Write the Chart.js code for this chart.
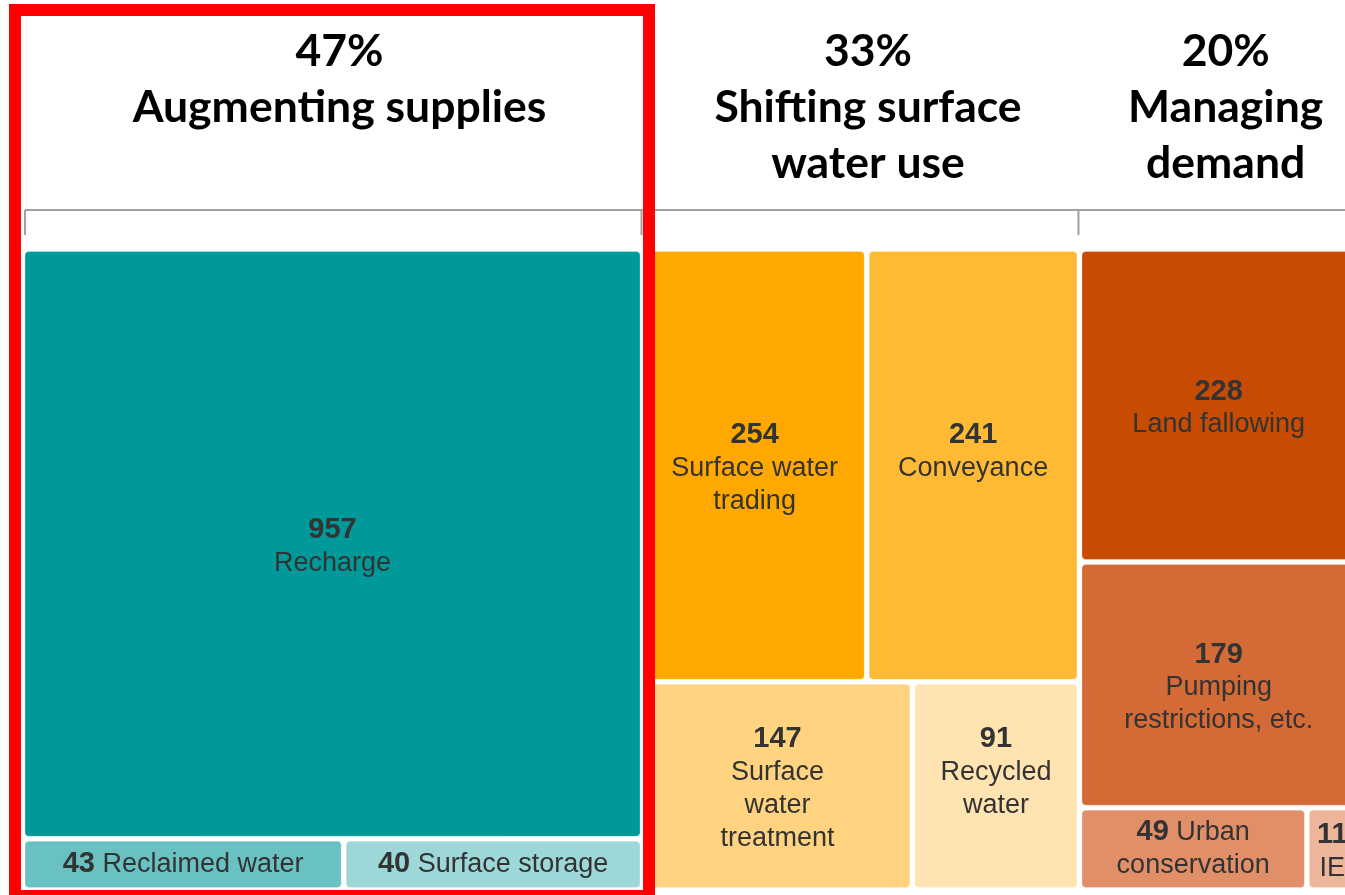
<!DOCTYPE html>
<html>
<head>
<meta charset="utf-8">
<script src="https://cdn.jsdelivr.net/npm/chart.js@4.4.1/dist/chart.umd.min.js"></script>
<style>
  html, body { margin: 0; padding: 0; background: #ffffff; overflow: hidden; }
  canvas { display: block; }
</style>
</head>
<body>
<canvas id="chart" width="1345" height="895"></canvas>
<script>
// ---------------- DATA ----------------
const groupShares = ['47%', '33%', '20%'];
const groupNames = [['Augmenting supplies'], ['Shifting surface', 'water use'], ['Managing', 'demand']];

const tileValues = [957, 43, 40, 254, 241, 147, 91, 228, 179, 49, 11];
const tileLabels = [
  ['Recharge'],
  ['Reclaimed water'],
  ['Surface storage'],
  ['Surface water', 'trading'],
  ['Conveyance'],
  ['Surface', 'water', 'treatment'],
  ['Recycled', 'water'],
  ['Land fallowing'],
  ['Pumping', 'restrictions, etc.'],
  ['Urban', 'conservation'],
  ['IE']
];
const tileGroup = [0, 0, 0, 1, 1, 1, 1, 2, 2, 2, 2];
const tileRow   = [0, 1, 1, 0, 0, 1, 1, 0, 1, 2, 2];
const tileInline = [false, true, true, false, false, false, false, false, false, true, false];
const tileColors = ['#009999', '#6AC1C1', '#9DD7D7', '#FFA800', '#FFBA35', '#FFD37F', '#FFE3B1',
                    '#C84B02', '#D46B37', '#E08F68', '#EDB69B'];

// ---------------- LAYOUT (computed from values) ----------------
const nGroups = groupShares.length;
const groupTotals = [];
for (let g = 0; g < nGroups; g++) {
  groupTotals.push(tileValues.reduce((s, v, i) => s + (tileGroup[i] === g ? v : 0), 0));
}
const groupX0 = [];
let acc = 0;
for (let g = 0; g < nGroups; g++) { groupX0.push(acc); acc += groupTotals[g]; }

const tiles = [];
const rowMaxLines = {};
for (let g = 0; g < nGroups; g++) {
  const rows = [...new Set(tileRow.filter((r, i) => tileGroup[i] === g))].sort((a, b) => a - b);
  let yAcc = 0;
  rows.forEach(r => {
    const idx = tileValues.map((v, i) => i).filter(i => tileGroup[i] === g && tileRow[i] === r);
    const rowTotal = idx.reduce((s, i) => s + tileValues[i], 0);
    const h = rowTotal / groupTotals[g];
    let xAcc = 0;
    idx.forEach(i => {
      const w = tileValues[i] / rowTotal * groupTotals[g];
      const nLines = tileInline[i] ? tileLabels[i].length : tileLabels[i].length + 1;
      tiles[i] = { x0: groupX0[g] + xAcc, x1: groupX0[g] + xAcc + w, y0: yAcc, y1: yAcc + h, nLines };
      const key = g + '-' + r;
      rowMaxLines[key] = Math.max(rowMaxLines[key] || 0, nLines);
      xAcc += w;
    });
    yAcc += h;
  });
}

// ---------------- STYLE ----------------
const GAP = 2.5;
const RADIUS = 4;
const LINE_H = 33;
const NUM_FONT = "bold 29px 'Liberation Sans', Arial, sans-serif";
const LBL_FONT = "27px 'Liberation Sans', Arial, sans-serif";
const TEXT_COLOR = '#333333';
const HEAD_FONT = "bold 44.5px Lato, 'Open Sans', sans-serif";

const treemapPlugin = {
  id: 'treemapTiles',
  beforeDatasetsDraw(chart) {
    const { ctx, scales: { x, y } } = chart;
    ctx.save();
    tiles.forEach((t, i) => {
      const px0 = x.getPixelForValue(t.x0) + GAP;
      const px1 = x.getPixelForValue(t.x1) - GAP;
      const py0 = y.getPixelForValue(t.y0) + GAP;
      const py1 = y.getPixelForValue(t.y1) - GAP;
      ctx.beginPath();
      ctx.roundRect(px0, py0, px1 - px0, py1 - py0, RADIUS);
      ctx.fillStyle = tileColors[i];
      ctx.fill();
      ctx.lineWidth = 1;
      ctx.strokeStyle = 'rgba(255,255,255,0.25)';
      ctx.stroke();

      // text
      const lines = [];
      if (tileInline[i]) {
        lines.push([{ t: String(tileValues[i]), f: NUM_FONT }, { t: ' ' + tileLabels[i][0], f: LBL_FONT }]);
        tileLabels[i].slice(1).forEach(s => lines.push([{ t: s, f: LBL_FONT }]));
      } else {
        lines.push([{ t: String(tileValues[i]), f: NUM_FONT }]);
        tileLabels[i].forEach(s => lines.push([{ t: s, f: LBL_FONT }]));
      }
      const maxL = rowMaxLines[tileGroup[i] + '-' + tileRow[i]];
      const cx = (px0 + px1) / 2;
      const cy = (py0 + py1) / 2 + (tileInline[i] ? 0 : 3);
      const top = cy - maxL * LINE_H / 2;
      ctx.fillStyle = TEXT_COLOR;
      ctx.textBaseline = 'middle';
      ctx.textAlign = 'left';
      lines.forEach((parts, li) => {
        let total = 0;
        parts.forEach(p => { ctx.font = p.f; p.w = ctx.measureText(p.t).width; total += p.w; });
        let xx = cx - total / 2;
        const yy = top + (li + 0.5) * LINE_H;
        parts.forEach(p => { ctx.font = p.f; ctx.fillText(p.t, xx, yy); xx += p.w; });
      });
    });
    ctx.restore();
  },
  afterDraw(chart) {
    const { ctx, chartArea, scales: { x } } = chart;
    ctx.save();
    // group headers
    ctx.fillStyle = '#000000';
    ctx.font = HEAD_FONT;
    ctx.textAlign = 'center';
    ctx.textBaseline = 'alphabetic';
    for (let g = 0; g < nGroups; g++) {
      const gx0 = x.getPixelForValue(groupX0[g]);
      const gx1 = x.getPixelForValue(groupX0[g] + groupTotals[g]);
      const cx = (gx0 + gx1) / 2 + 7;
      const lines = [groupShares[g], ...groupNames[g]];
      lines.forEach((s, li) => ctx.fillText(s, cx, 66 + li * 56));
    }
    // bracket
    const by = chartArea.top - 39;
    const bt = chartArea.top - 14;
    const bStart = x.getPixelForValue(groupX0[0]) + GAP;
    const bEnd = x.getPixelForValue(groupX0[nGroups - 1] + groupTotals[nGroups - 1]) - GAP;
    ctx.strokeStyle = '#a0a0a0';
    ctx.lineWidth = 2;
    ctx.beginPath();
    ctx.moveTo(bStart, by); ctx.lineTo(bEnd, by);
    const ticks = [bStart];
    for (let g = 1; g < nGroups; g++) ticks.push(x.getPixelForValue(groupX0[g]) - 1);
    ticks.push(bEnd);
    ticks.forEach(tx => { ctx.moveTo(tx, by); ctx.lineTo(tx, bt); });
    ctx.stroke();
    // red highlight box around first group
    const r0 = x.getPixelForValue(groupX0[0]) - 7.5;
    const r1 = x.getPixelForValue(groupX0[0] + groupTotals[0]) + 6.5;
    ctx.strokeStyle = '#ff0000';
    ctx.lineWidth = 12;
    ctx.strokeRect(r0, 10, r1 - r0, 886);
    ctx.restore();
  }
};

const UNIT_PX = 620 / groupTotals[0];
const X_MIN = -22.5 / UNIT_PX;
const X_MAX = X_MIN + 1345 / UNIT_PX;

new Chart(document.getElementById('chart'), {
  type: 'scatter',
  data: {
    datasets: [{
      label: 'Tiles',
      data: tiles.map((t, i) => ({ x: (t.x0 + t.x1) / 2, y: (t.y0 + t.y1) / 2, v: tileValues[i] })),
      pointRadius: 0,
      pointHoverRadius: 0,
      backgroundColor: tileColors
    }]
  },
  options: {
    responsive: false,
    animation: false,
    devicePixelRatio: 1,
    layout: { padding: { top: 249, bottom: 5, left: 0, right: 0 } },
    scales: {
      x: { type: 'linear', min: X_MIN, max: X_MAX, display: false },
      y: { type: 'linear', min: 0, max: 1, reverse: true, display: false }
    },
    plugins: { legend: { display: false }, tooltip: { enabled: false }, title: { display: false } }
  },
  plugins: [treemapPlugin]
});
</script>
</body>
</html>
